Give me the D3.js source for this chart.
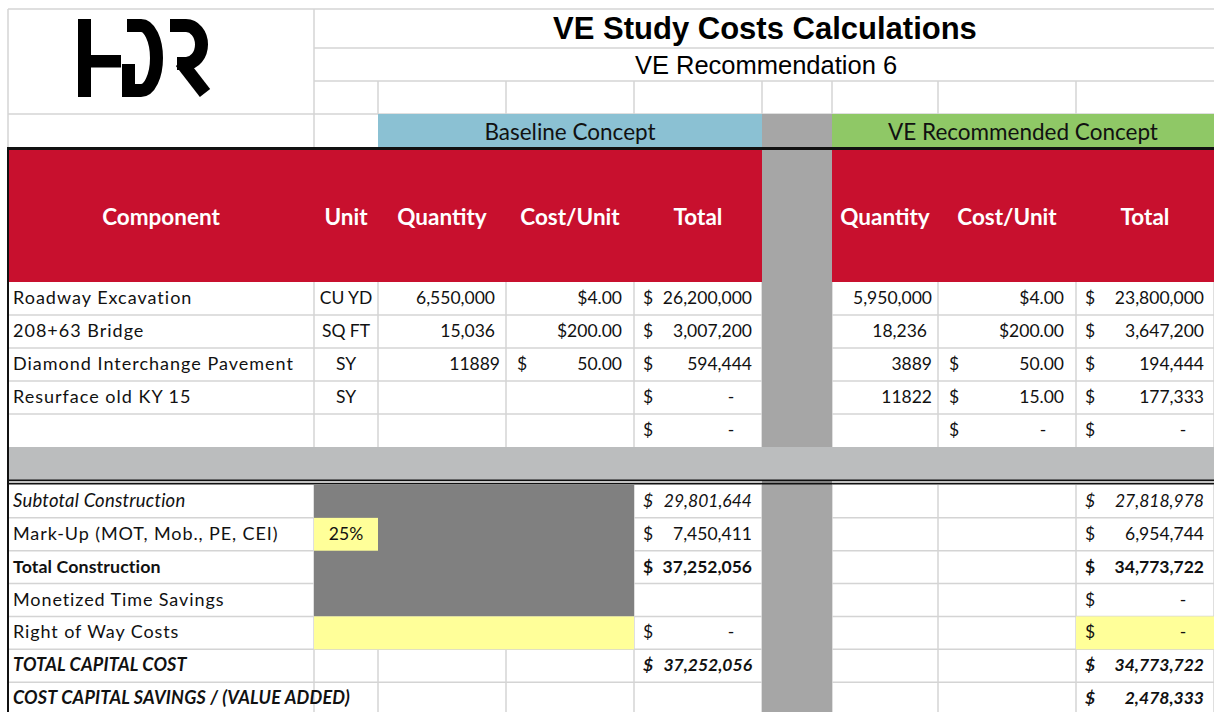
<!DOCTYPE html>
<html>
<head>
<meta charset="utf-8">
<script src="https://cdn.jsdelivr.net/npm/d3@7"></script>
<style>
  body { margin: 0; background: #fff; }
  text { font-family: Lato, "Open Sans", sans-serif; }
</style>
</head>
<body>
<svg id="sheet"></svg>
<script>
const W = 1214, H = 712;

// Data - line items
const components = ["Roadway Excavation", "208+63 Bridge", "Diamond Interchange Pavement", "Resurface old KY 15", ""];
const units = ["CU YD", "SQ FT", "SY", "SY", ""];
const baseQty = [6550000, 15036, 11889, null, null];
const baseQtyFmt = ["#,##0_)", "#,##0_)", "0", null, null];
const baseCost = [4, 200, 50, null, null];
const baseCostFmt = ["$0.00", "$0.00", "acct", null, null];
const baseTotal = [26200000, 3007200, 594444, 0, 0];
const veQty = [5950000, 18236, 3889, 11822, null];
const veQtyFmt = ["#,##0", "#,##0_)", "0", "0", null];
const veCost = [4, 200, 50, 15, 0];
const veCostFmt = ["$0.00", "$0.00", "acct", "acct", "acct"];
const veTotal = [23800000, 3647200, 194444, 177333, 0];

// Data - summary rows
const summaryLabels = ["Subtotal Construction", "Mark-Up (MOT, Mob., PE, CEI)", "Total Construction",
  "Monetized Time Savings", "Right of Way Costs", "TOTAL CAPITAL COST", "COST CAPITAL SAVINGS / (VALUE ADDED)"];
const summaryStyle = ["italic", "normal", "bold", "normal", "normal", "bolditalic", "bolditalic"];
const baseSummary = [29801644, 7450411, 37252056, null, 0, 37252056, null];
const veSummary = [27818978, 6954744, 34773722, 0, 0, 34773722, 2478333];
const markUp = 0.25;

const headers = ["Component", "Unit", "Quantity", "Cost/Unit", "Total", "", "Quantity", "Cost/Unit", "Total"];

// Layout
const cols = ["comp", "unit", "bq", "bc", "bt", "gap", "vq", "vc", "vt"];
const edges = [8, 314, 378, 506, 634, 762, 832, 938, 1076, 1214];
const xL = d3.scaleOrdinal().domain(cols).range(edges.slice(0, -1));
const xR = d3.scaleOrdinal().domain(cols).range(edges.slice(1));
const xC = c => (xL(c) + xR(c)) / 2;

const yData = d3.scaleLinear().domain([0, 5]).range([282, 447]);
const ySum = d3.scaleLinear().domain([0, 7]).range([485, 715]);

const svg = d3.select("#sheet").attr("width", W).attr("height", H);
svg.append("rect").attr("width", W).attr("height", H).attr("fill", "#fff");

const grid = svg.append("g").attr("stroke", "#d4d4d4").attr("stroke-width", 1.5);
const fills = svg.append("g");
const lines = svg.append("g");
const labels = svg.append("g");

// Gridlines
const hLine = (y, x1, x2) => grid.append("line").attr("x1", x1).attr("x2", x2).attr("y1", y).attr("y2", y);
const vLine = (x, y1, y2) => grid.append("line").attr("x1", x).attr("x2", x).attr("y1", y1).attr("y2", y2);

hLine(9, 8, W);
hLine(48, 314, W);
hLine(81, 314, W);
hLine(114, 8, W);
vLine(8, 9, 147);
vLine(314, 9, 147);
edges.slice(2, -1).forEach(x => vLine(x, 81, 114));
d3.range(1, 5).forEach(i => hLine(yData(i), 8, W));
d3.range(1, 7).forEach(i => hLine(ySum(i), 8, W));
edges.slice(1).forEach(x => { vLine(x, 282, 447); vLine(x, 485, H); });

// Fills
const box = (x1, x2, y1, y2, color) => fills.append("rect")
  .attr("x", x1).attr("y", y1).attr("width", x2 - x1).attr("height", y2 - y1).attr("fill", color);

box(xL("bq"), xR("bt"), 114, 147, "#8bc1d3");
box(xL("vq"), xR("vt"), 114, 147, "#8fc866");
box(xL("gap"), xR("gap"), 114, H, "#a6a6a6");
box(xL("comp"), xR("bt"), 150, 282, "#c8102e");
box(xL("vq"), xR("vt"), 150, 282, "#c8102e");
box(8, W, 447, 480, "#bbbdbe");
box(xL("unit"), xR("bc"), ySum(0), ySum(4), "#808080");
box(xL("unit"), xR("unit"), ySum(1), ySum(2), "#ffff99");
box(xL("unit"), xR("bc"), ySum(4), ySum(5), "#ffff99");
box(xL("vt"), xR("vt"), ySum(4), ySum(5), "#ffff99");

// Heavy borders
box(8, W, 147, 150, "#111");
lines.append("line").attr("x1", 8).attr("x2", 8).attr("y1", 147).attr("y2", H)
  .attr("stroke", "#111").attr("stroke-width", 2);
[480.4, 483.6].forEach(y => lines.append("line").attr("x1", 8).attr("x2", W).attr("y1", y).attr("y2", y)
  .attr("stroke", "#111").attr("stroke-width", 1.6));

// Logo
const logo = svg.append("g").attr("fill", "none").attr("stroke", "#000").attr("stroke-width", 13);
logo.append("rect").attr("x", 78).attr("y", 19).attr("width", 13).attr("height", 78).attr("fill", "#000").attr("stroke", "none");
logo.append("rect").attr("x", 90).attr("y", 55).attr("width", 31).attr("height", 12.5).attr("fill", "#000").attr("stroke", "none");
logo.append("path").attr("d", "M128.5,64 V90.5 H141 A15.5 32.5 0 0 0 141,25.5 H127");
logo.append("path").attr("d", "M170,25.5 H186 A15.5 19 0 0 1 186,63.5 H177");
logo.append("path").attr("d", "M181,62 L205,93");

// Text helper
function txt(x, y, s, anchor, o = {}) {
  return labels.append("text")
    .attr("x", x).attr("y", y)
    .attr("text-anchor", anchor)
    .attr("font-size", o.size || 17.5)
    .attr("font-weight", o.bold ? "bold" : "normal")
    .attr("font-style", o.italic ? "italic" : "normal")
    .attr("letter-spacing", o.ls || 0)
    .attr("fill", o.fill || "#111")
    .style("font-family", o.family || null)
    .text(s);
}

const fComma = d3.format(",");
const fCost = d3.format(",.2f");

function acct(col, y, v, o = {}) {
  if (v == null) return;
  txt(xL(col) + 9, y, "$", "start", o);
  if (v === 0) txt(xR(col) - 31, y, "-", "middle", o);
  else txt(xR(col) - 10, y, fComma(v), "end", o);
}

function qty(col, y, v, fmt) {
  if (v == null) return;
  if (fmt === "0") txt(xR(col) - 6, y, String(v), "end");
  else if (fmt === "#,##0") txt(xR(col) - 6, y, fComma(v), "end");
  else txt(xR(col) - 11, y, fComma(v), "end");
}

function cost(col, y, v, fmt) {
  if (v == null) return;
  if (fmt === "acct") {
    txt(xL(col) + 11, y, "$", "start");
    if (v === 0) txt(xR(col) - 33, y, "-", "middle");
    else txt(xR(col) - 12, y, fCost(v), "end");
  } else {
    txt(xR(col) - 12, y, "$" + fCost(v), "end");
  }
}

// Titles
txt(765, 39, "VE Study Costs Calculations", "middle", { size: 31, bold: true, family: "'Liberation Sans', Arial, sans-serif", fill: "#000" });
txt(766, 74, "VE Recommendation 6", "middle", { size: 25.5, family: "'Liberation Sans', Arial, sans-serif", fill: "#000" });
txt((xL("bq") + xR("bt")) / 2, 140, "Baseline Concept", "middle", { size: 22.5 });
txt((xL("vq") + xR("vt")) / 2, 140, "VE Recommended Concept", "middle", { size: 22.5 });

// Column headers
cols.forEach((c, i) => {
  if (headers[i]) txt(xC(c), 225, headers[i], "middle", { size: 22.5, bold: true, fill: "#fff" });
});

// Line items
components.forEach((name, i) => {
  const y = yData(i) + 22;
  if (name) txt(xL("comp") + 5, y, name, "start", { size: 18, ls: 1 });
  if (units[i]) txt(xC("unit"), y, units[i], "middle");
  qty("bq", y, baseQty[i], baseQtyFmt[i]);
  cost("bc", y, baseCost[i], baseCostFmt[i]);
  acct("bt", y, baseTotal[i]);
  qty("vq", y, veQty[i], veQtyFmt[i]);
  cost("vc", y, veCost[i], veCostFmt[i]);
  acct("vt", y, veTotal[i]);
});

// Summary rows
const labelStyle = {
  normal: { size: 18, ls: 0.9 },
  italic: { size: 18.5, ls: 0.2, italic: true },
  bold: { size: 17.8, ls: 0.1, bold: true },
  bolditalic: { size: 18, ls: 0.2, bold: true, italic: true }
};
summaryLabels.forEach((name, i) => {
  const y = ySum(i) + 22;
  const st = summaryStyle[i];
  const o = { bold: st.includes("bold"), italic: st.includes("italic") };
  txt(xL("comp") + 5, y, name, "start", labelStyle[st]);
  acct("bt", y, baseSummary[i], o);
  acct("vt", y, veSummary[i], o);
});
txt(xC("unit"), ySum(1) + 22, d3.format(".0%")(markUp), "middle");
</script>
</body>
</html>
